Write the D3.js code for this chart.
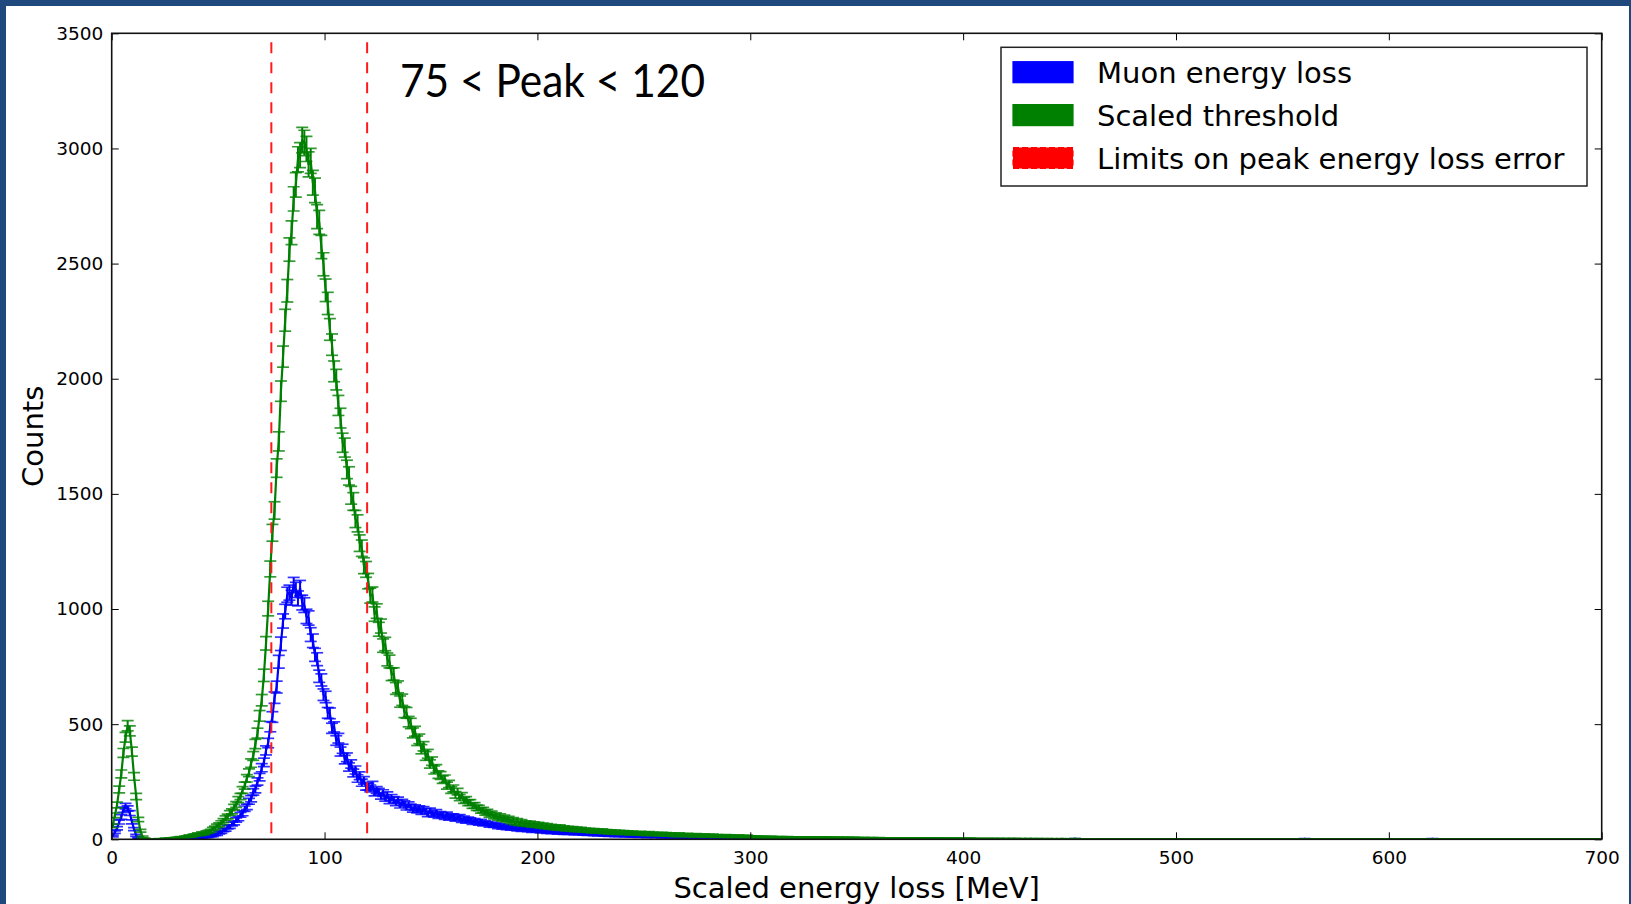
<!DOCTYPE html>
<html>
<head>
<meta charset="utf-8">
<script src="https://cdn.jsdelivr.net/npm/d3@7"></script>
<style>
html, body { margin: 0; padding: 0; background: #1f497d; }
svg { display: block; }
text { font-family: "DejaVu Sans", sans-serif; fill: #000; }
</style>
</head>
<body>
<svg id="visframe"></svg>
<script>
// histogram bins: 1 MeV wide, starting at 0
var binStart = 0;
var binWidth = 1;

// Muon energy loss (blue), 0-299 MeV
var muonCounts = [
  14, 31, 48, 75, 97, 128, 144, 134, 114, 76, 44, 17, 5, 1, 0, 0, 1, 0, 0, 0,
  1, 0, 0, 1, 0, 1, 0, 0, 1, 1, 0, 1, 2, 1, 2, 3, 2, 4, 3, 5,
  6, 6, 8, 10, 11, 12, 16, 15, 21, 22, 29, 31, 39, 42, 52, 55, 66, 71, 84, 90,
  106, 113, 133, 141, 165, 176, 206, 216, 251, 270, 311, 334, 386, 418, 489, 531, 615, 661, 771, 849,
  948, 989, 1062, 1071, 1049, 1104, 1083, 1046, 1091, 1028, 1017, 968, 961, 889, 862, 801, 782, 708, 692, 628,
  618, 549, 547, 482, 488, 429, 439, 381, 393, 346, 356, 314, 327, 288, 301, 264, 276, 246, 256, 229,
  229, 221, 236, 203, 214, 207, 188, 201, 179, 192, 168, 181, 172, 159, 170, 148, 161, 155, 139, 150,
  141, 129, 138, 126, 134, 119, 131, 122, 109, 124, 113, 107, 118, 101, 110, 104, 96, 108, 93, 99,
  101, 88, 94, 97, 83, 91, 79, 87, 84, 73, 81, 76, 70, 78, 66, 72, 69, 61, 67, 59,
  63, 54, 59, 51, 57, 49, 55, 46, 52, 50, 43, 49, 41, 47, 44, 39, 45, 36, 42, 38,
  40, 33, 38, 35, 31, 37, 30, 35, 32, 28, 34, 29, 27, 33, 26, 30, 28, 24, 29, 25,
  28, 23, 27, 21, 26, 24, 20, 25, 19, 23, 22, 18, 21, 17, 22, 19, 16, 20, 15, 19,
  17, 14, 18, 16, 13, 17, 15, 12, 16, 13, 15, 11, 14, 12, 15, 10, 13, 12, 9, 12,
  11, 12, 9, 11, 10, 8, 11, 9, 10, 7, 10, 8, 9, 7, 9, 8, 6, 9, 7, 8,
  7, 8, 5, 7, 6, 7, 5, 6, 4, 7, 5, 6, 5, 4, 6, 4, 5, 3, 5, 4
];
// Muon energy loss, 300-699 MeV
var muonTail = [
  4,5,4,4,3,4,4,3,4,3,3,4,3,3,3,2,3,3,2,3,3,2,3,2,2,3,2,2,3,2,2,2,2,1,2,2,2,1,2,2,
  2,1,2,2,1,2,1,2,1,1,2,1,1,2,1,1,1,2,1,1,1,1,2,1,1,1,1,1,2,1,1,0,1,1,1,1,0,1,1,1,
  1,0,1,1,1,0,1,1,0,1,1,0,1,0,1,1,0,1,0,1,0,1,1,0,0,1,0,1,0,0,1,0,1,0,0,1,0,0,1,0,
  0,1,0,0,1,0,0,1,0,0,0,1,0,0,1,0,0,0,1,0,0,0,0,1,0,0,0,1,0,0,0,0,2,0,0,0,1,0,0,0,
  0,0,1,0,0,0,0,1,0,0,0,0,0,1,0,0,0,0,0,1,0,0,0,0,0,0,1,0,0,0,0,0,0,1,0,0,0,0,0,0,
  1,0,0,0,0,0,0,0,1,0,0,0,0,0,0,0,0,1,0,0,0,0,0,0,0,0,0,1,0,0,0,0,0,0,0,0,0,0,1,0,
  0,0,0,0,0,0,0,0,0,1,0,0,0,0,0,0,0,0,0,0,2,0,0,0,0,0,0,0,0,0,0,0,0,0,1,0,0,0,0,0,
  0,0,0,0,0,0,0,0,0,0,0,1,0,0,0,0,0,0,0,0,0,0,0,0,0,0,0,0,0,1,0,0,0,0,0,0,0,0,0,0,
  2,0,0,0,0,0,0,0,0,0,0,0,0,0,0,0,0,0,0,0,0,0,0,1,0,0,0,0,0,0,0,0,0,0,0,0,0,0,0,0,
  0,0,0,0,0,0,0,0,0,0,0,0,0,0,0,0,0,0,1,0,0,0,0,0,0,0,0,0,0,0,0,0,0,0,0,0,0,0,0,0
];

// Scaled threshold (green), 0-299 MeV
var thresholdCounts = [
  58, 104, 149, 216, 284, 375, 443, 493, 471, 381, 273, 186, 86, 37, 11, 3, 1, 0, 1, 0,
  1, 0, 2, 1, 1, 3, 2, 4, 3, 5, 6, 7, 9, 8, 11, 12, 15, 13, 18, 19,
  23, 20, 27, 24, 31, 33, 37, 45, 50, 58, 63, 72, 81, 92, 99, 114, 121, 140, 151, 172,
  186, 214, 233, 265, 289, 331, 362, 414, 461, 536, 604, 712, 851, 1002, 1174, 1331, 1428, 1612, 1728, 1946,
  2096, 2254, 2382, 2561, 2634, 2781, 2842, 2953, 2971, 3036, 3024, 2998, 2931, 2946, 2851, 2818, 2704, 2679, 2572, 2497,
  2384, 2327, 2214, 2148, 2032, 1996, 1884, 1829, 1722, 1701, 1606, 1578, 1494, 1467, 1391, 1372, 1286, 1264, 1188, 1172,
  1121, 1058, 1063, 978, 991, 912, 926, 841, 848, 781, 772, 716, 718, 655, 662, 598, 606, 552, 549, 511,
  503, 462, 469, 428, 436, 391, 404, 362, 371, 327, 339, 301, 307, 281, 277, 259, 263, 233, 240, 214,
  221, 193, 207, 181, 189, 169, 172, 159, 160, 146, 147, 137, 136, 125, 127, 116, 119, 107, 112, 99,
  105, 93, 101, 88, 95, 84, 90, 77, 85, 71, 81, 68, 77, 66, 72, 64, 71, 60, 68, 59,
  65, 56, 62, 53, 60, 51, 57, 49, 54, 47, 55, 45, 51, 43, 49, 42, 48, 40, 46, 39,
  45, 37, 42, 36, 41, 34, 40, 33, 38, 32, 39, 30, 36, 29, 35, 28, 34, 27, 33, 26,
  32, 26, 31, 24, 30, 25, 28, 23, 29, 22, 27, 21, 28, 20, 26, 21, 24, 19, 25, 18,
  24, 18, 23, 17, 22, 16, 23, 17, 20, 15, 21, 16, 19, 14, 20, 15, 18, 13, 19, 14,
  17, 13, 18, 12, 16, 13, 15, 12, 16, 11, 15, 12, 14, 10, 15, 11, 13, 10, 14, 10
];
// Scaled threshold, 300-699 MeV
var thresholdTail = [
  11,10,11,10,10,9,10,9,9,10,9,8,9,8,9,8,8,9,8,7,8,8,7,8,7,7,8,7,7,6,7,7,6,7,6,6,7,6,6,5,
  6,6,5,6,5,6,5,5,6,5,5,4,5,5,4,5,4,5,4,4,5,4,4,4,3,4,4,3,4,4,3,4,3,3,4,3,3,3,4,3,
  3,3,3,2,3,3,2,3,3,2,3,2,3,2,2,3,2,2,3,2,2,2,2,3,2,2,1,2,2,2,1,2,2,2,1,2,2,1,2,2,
  1,2,1,2,2,1,2,1,1,2,1,2,1,1,2,1,1,2,1,1,1,2,1,1,1,1,2,1,1,1,1,1,2,1,1,1,1,0,1,1,
  1,1,1,0,1,1,1,1,0,1,1,1,0,1,1,1,0,1,1,0,1,1,1,0,1,0,1,1,0,1,1,0,1,0,1,1,0,1,0,1,
  1,0,1,0,1,1,0,1,0,0,1,0,1,0,1,0,0,1,0,1,0,0,1,0,1,0,0,1,0,0,1,0,0,1,0,1,0,0,1,0,
  0,1,0,0,1,0,0,0,1,0,0,1,0,0,0,1,0,0,1,0,0,0,1,0,0,0,0,1,0,0,1,0,0,0,0,1,0,0,0,1,
  0,0,0,1,0,0,0,0,1,0,0,0,0,1,0,0,0,0,0,1,0,0,0,0,1,0,0,0,0,0,1,0,0,0,0,0,0,1,0,0,
  0,0,0,0,1,0,0,0,0,0,0,1,0,0,0,0,0,0,1,0,0,0,0,0,0,0,1,0,0,0,0,0,0,0,0,1,0,0,0,0,
  0,0,0,1,0,0,0,0,0,0,0,0,1,0,0,0,0,0,0,0,0,0,1,0,0,0,0,0,0,0,0,0,0,0,1,0,0,0,0,0
];

var xTicks = [0, 100, 200, 300, 400, 500, 600, 700];
var yTicks = [0, 500, 1000, 1500, 2000, 2500, 3000, 3500];
var peakLimits = [75, 120];
var legendLabels = ["Muon energy loss", "Scaled threshold", "Limits on peak energy loss error"];
var legendColors = ["#0000ff", "#008000", "#ff0000"];

var W = 1631, H = 904;
var plot = { left: 111.7, right: 1601.7, top: 33.3, bottom: 839.3 };

var svg = d3.select("#visframe").attr("width", W).attr("height", H);

// slide frame
svg.append("rect").attr("width", W).attr("height", H).attr("fill", "#1f497d");
svg.append("rect").attr("x", 6).attr("y", 6).attr("width", W - 8).attr("height", H - 6).attr("fill", "#fff");

var x = d3.scaleLinear().domain([0, 700]).range([plot.left, plot.right]);
var y = d3.scaleLinear().domain([0, 3500]).range([plot.bottom, plot.top]);

svg.append("clipPath").attr("id", "plotclip")
  .append("rect")
  .attr("x", plot.left).attr("y", plot.top)
  .attr("width", plot.right - plot.left).attr("height", plot.bottom - plot.top);

var capHalf = 6;

function drawSeries(counts, color){
  var pts = counts.map(function(c, i){
    return { e: binStart + (i + 0.5) * binWidth, n: c, err: Math.sqrt(c) }; // Poisson error
  });
  var g = svg.append("g").attr("clip-path", "url(#plotclip)");

  g.append("path")
    .datum(pts)
    .attr("fill", "none")
    .attr("stroke", color)
    .attr("stroke-width", 2.2)
    .attr("stroke-linejoin", "round")
    .attr("d", d3.line().x(function(d){ return x(d.e); }).y(function(d){ return y(d.n); }));

  var bars = g.append("g").attr("stroke", color);
  bars.selectAll(".ebar").data(pts).enter().append("line")
    .attr("class", "ebar")
    .attr("stroke-width", 2)
    .attr("x1", function(d){ return x(d.e); })
    .attr("x2", function(d){ return x(d.e); })
    .attr("y1", function(d){ return y(d.n - d.err); })
    .attr("y2", function(d){ return y(d.n + d.err); });

  [-1, 1].forEach(function(s){
    bars.selectAll(".cap" + s).data(pts).enter().append("line")
      .attr("stroke-width", 1.7)
      .attr("stroke-opacity", 0.8)
      .attr("x1", function(d){ return x(d.e) - capHalf; })
      .attr("x2", function(d){ return x(d.e) + capHalf; })
      .attr("y1", function(d){ return y(d.n + s * d.err); })
      .attr("y2", function(d){ return y(d.n + s * d.err); });
  });
}

drawSeries(muonCounts.concat(muonTail), "#0000ff");
drawSeries(thresholdCounts.concat(thresholdTail), "#008000");

// peak limits
svg.append("g").selectAll("line").data(peakLimits).enter().append("line")
  .attr("x1", function(d){ return x(d); })
  .attr("x2", function(d){ return x(d); })
  .attr("y1", plot.top).attr("y2", plot.bottom)
  .attr("stroke", "#ff1a1a").attr("stroke-width", 2)
  .attr("stroke-dasharray", "11,9").attr("stroke-dashoffset", 11);

// axes, ticks pointing inward on all sides
function styleAxis(g){
  g.select(".domain").remove();
  g.selectAll(".tick line").attr("stroke", "#000").attr("stroke-width", 1);
  g.selectAll(".tick text").attr("font-size", "18.5px").attr("font-family", "DejaVu Sans");
}
var fmt = d3.format("d");
svg.append("g").attr("transform", "translate(0," + plot.bottom + ")")
  .call(d3.axisBottom(x).tickValues(xTicks).tickFormat(fmt).tickSize(-7).tickPadding(12)).call(styleAxis);
svg.append("g").attr("transform", "translate(0," + plot.top + ")")
  .call(d3.axisTop(x).tickValues(xTicks).tickSize(-7).tickFormat("")).call(styleAxis);
svg.append("g").attr("transform", "translate(" + plot.left + ",0)")
  .call(d3.axisLeft(y).tickValues(yTicks).tickFormat(fmt).tickSize(-7).tickPadding(8.4)).call(styleAxis);
svg.append("g").attr("transform", "translate(" + plot.right + ",0)")
  .call(d3.axisRight(y).tickValues(yTicks).tickSize(-7).tickFormat("")).call(styleAxis);

svg.append("rect")
  .attr("x", plot.left).attr("y", plot.top)
  .attr("width", plot.right - plot.left).attr("height", plot.bottom - plot.top)
  .attr("fill", "none").attr("stroke", "#111").attr("stroke-width", 1.6);

// axis labels
svg.append("text")
  .attr("x", (plot.left + plot.right) / 2).attr("y", 898)
  .attr("text-anchor", "middle").attr("font-size", "29px")
  .text("Scaled energy loss [MeV]");
svg.append("text")
  .attr("transform", "translate(43," + (plot.top + plot.bottom) / 2 + ") rotate(-90)")
  .attr("text-anchor", "middle").attr("font-size", "29px")
  .text("Counts");

// annotation
svg.append("text")
  .attr("x", 400).attr("y", 97)
  .attr("font-size", "46px")
  .attr("textLength", 305).attr("lengthAdjust", "spacingAndGlyphs")
  .style("font-family", "Lato, 'Open Sans', sans-serif")
  .text("75 < Peak < 120");

// legend
var legend = svg.append("g");
legend.append("rect")
  .attr("x", 1001).attr("y", 47.3).attr("width", 586).attr("height", 138.7)
  .attr("fill", "#fff").attr("stroke", "#222").attr("stroke-width", 1.5);
var rowY = d3.scalePoint().domain(d3.range(legendLabels.length)).range([72.2, 158]);
var items = legend.selectAll(".legItem").data(legendLabels).enter().append("g").attr("class", "legItem");
items.append("rect")
  .attr("x", 1013).attr("y", function(d, i){ return rowY(i) - 10.5; })
  .attr("width", 60).attr("height", 21)
  .attr("fill", function(d, i){ return legendColors[i]; })
  .attr("stroke", function(d, i){ return legendColors[i]; })
  .attr("stroke-width", 1.2)
  .attr("stroke-dasharray", function(d, i){ return i == 2 ? "6,3" : null; });
items.append("text")
  .attr("x", 1097).attr("y", function(d, i){ return rowY(i) + 10.6; })
  .attr("font-size", "29px")
  .text(function(d){ return d; });
</script>
</body>
</html>
